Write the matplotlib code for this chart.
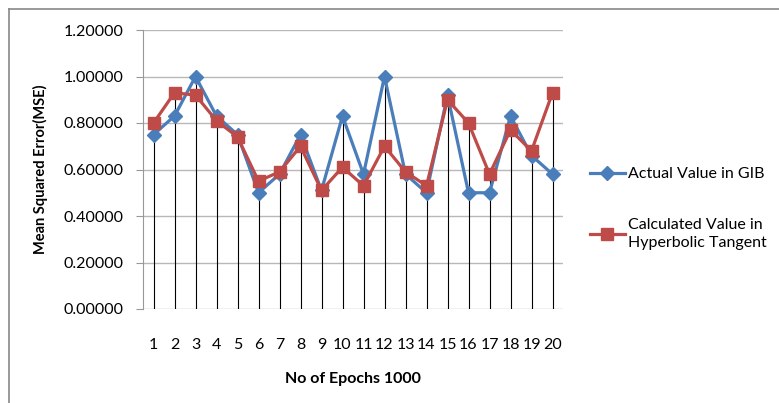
import matplotlib.pyplot as plt
from matplotlib.lines import Line2D

epochs = list(range(1, 21))
actual_gib = [0.75, 0.83, 1.00, 0.83, 0.75, 0.50, 0.58, 0.75, 0.51, 0.83,
              0.58, 1.00, 0.58, 0.50, 0.92, 0.50, 0.50, 0.83, 0.66, 0.58]
calc_tanh = [0.80, 0.93, 0.92, 0.81, 0.74, 0.55, 0.59, 0.70, 0.51, 0.61,
             0.53, 0.70, 0.59, 0.53, 0.90, 0.80, 0.58, 0.77, 0.68, 0.93]
yticks = [0.0, 0.2, 0.4, 0.6, 0.8, 1.0, 1.2]

plt.rcParams['font.family'] = ['Lato', 'DejaVu Sans']

fig = plt.figure(figsize=(7.79, 4.03), dpi=100)
ax = fig.add_axes([143/779, 1-309/403, 420/779, 279/403])

# grid lines
for t in yticks:
    ax.axhline(t, color='#b8b8b8', lw=1.0, zorder=0)

# drop lines
tops = [max(a, b) for a, b in zip(actual_gib, calc_tanh)]
ax.vlines(epochs, 0, tops, color='black', lw=0.8, zorder=1)

ax.plot(epochs, actual_gib, color='#4a7ebb', lw=2.3, marker='D', markersize=7,
        label='Actual Value in GIB', zorder=3)
ax.plot(epochs, calc_tanh, color='#be4b48', lw=2.3, marker='s', markersize=8.5,
        label='Calculated Value in\nHyperbolic Tangent', zorder=4)

ax.set_xlim(0.5, 20.5)
ax.set_ylim(0, 1.2)
ax.set_yticks(yticks)
ax.set_yticklabels(['%.5f' % t for t in yticks], fontsize=11.5)
ax.set_xticks(epochs)
ax.set_xticklabels([str(e) for e in epochs], fontsize=11.5)
ax.tick_params(axis='x', length=0, pad=21)
ax.tick_params(axis='y', length=5, color='#999999', pad=9)

for s in ['top', 'right', 'bottom']:
    ax.spines[s].set_visible(False)
ax.spines['left'].set_color('#999999')

ax.set_xlabel('No of Epochs 1000', fontsize=11.5, fontweight='bold', labelpad=14)
ax.set_ylabel('Mean Squared Error(MSE)', fontsize=10.5, fontweight='bold', labelpad=11)

leg = ax.legend(loc='center left', bbox_to_anchor=(1.064, 0.36), frameon=False,
                fontsize=11.5, handlelength=2.2, handletextpad=0.2, labelspacing=2.3,
                borderpad=0, borderaxespad=0)
for txt in leg.get_texts():
    txt.set_linespacing(1.35)

# outer chart border (top & left visible)
fig.add_artist(Line2D([9/779, 1], [1-9/403, 1-9/403], color='#888888', lw=1.2))
fig.add_artist(Line2D([9/779, 9/779], [0, 1-9/403], color='#888888', lw=1.2))

fig.savefig('out.png', dpi=100)
